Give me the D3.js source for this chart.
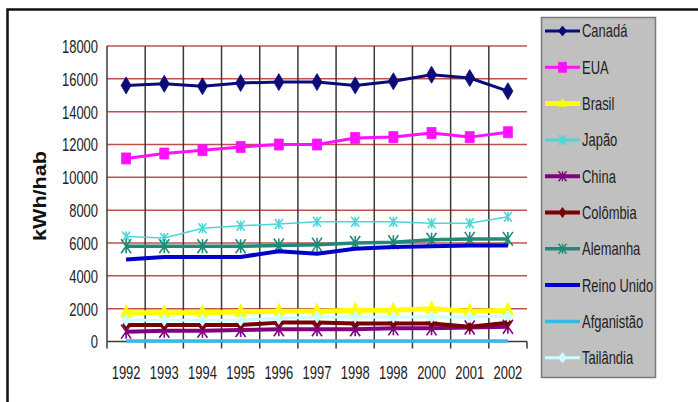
<!DOCTYPE html>
<html>
<head>
<meta charset="utf-8">
<script src="https://cdn.jsdelivr.net/npm/d3@7"></script>
<style>
  html, body { margin: 0; padding: 0; background: #fff; }
  svg { display: block; }
  text { font-family: "Liberation Sans", Arial, sans-serif; fill: #222; }
</style>
</head>
<body>
<svg id="chart" width="698" height="402"></svg>
<script>
// Consumo de eletricidade per capita (kWh/hab), 1992–2002
const years = ["1992","1993","1994","1995","1996","1997","1998","1999","2000","2001","2002"];
const yearLabels = ["1992","1993","1994","1995","1996","1997","1998","1998","2000","2001","2002"];
const yTicks = [0, 2000, 4000, 6000, 8000, 10000, 12000, 14000, 16000, 18000];

const canada     = [15600, 15700, 15550, 15750, 15800, 15800, 15600, 15850, 16250, 16050, 15250];
const eua        = [11150, 11450, 11650, 11850, 12000, 12000, 12400, 12450, 12700, 12450, 12750];
const brasil     = [1750, 1750, 1750, 1800, 1850, 1850, 1900, 1900, 2000, 1850, 1900];
const japao      = [6400, 6300, 6900, 7050, 7150, 7300, 7300, 7300, 7200, 7200, 7600];
const china      = [600, 650, 650, 700, 750, 750, 750, 800, 800, 850, 900];
const colombia   = [1000, 1000, 1000, 1000, 1150, 1150, 1100, 1100, 1100, 900, 1150];
const alemanha   = [5800, 5800, 5800, 5800, 5850, 5900, 6000, 6050, 6200, 6250, 6250];
const reinoUnido = [5000, 5150, 5150, 5150, 5500, 5350, 5650, 5750, 5800, 5850, 5850];
const afganistao = [30, 30, 30, 30, 30, 30, 30, 30, 30, 30, 30];
const tailandia  = [1300, 1300, 1300, 1300, 1400, 1500, 1500, 1500, 1500, 1500, 1550];

const seriesNames = ["Canadá","EUA","Brasil","Japão","China","Colômbia","Alemanha","Reino Unido","Afganistão","Tailândia"];
const seriesValues = [canada, eua, brasil, japao, china, colombia, alemanha, reinoUnido, afganistao, tailandia];

// visual style per series (colour, stroke width, marker)
const styles = [
  { color: "#0c0c78", width: 3,   marker: "diamond",  mw: 10, mh: 17 },
  { color: "#ff10ff", width: 3,   marker: "square",   mw: 9,  mh: 11 },
  { color: "#ffff00", width: 5,   marker: "triangle", mw: 11, mh: 16 },
  { color: "#4dd6d6", width: 1.5, marker: "asterisk", mw: 8,  mh: 10 },
  { color: "#800080", width: 4,   marker: "asterisk", mw: 10, mh: 14 },
  { color: "#7a0000", width: 4,   marker: "diamond",  mw: 7,  mh: 10 },
  { color: "#1f8a78", width: 3.5, marker: "asterisk", mw: 10, mh: 14 },
  { color: "#0000cc", width: 4,   marker: null },
  { color: "#33bbe8", width: 3.5, marker: null },
  { color: "#ccffff", width: 3,   marker: "diamond",  mw: 8,  mh: 12 }
];

const svg = d3.select("#chart");
const SX = 0.72; // horizontal squeeze of the axis/legend type

// outer frame
svg.append("rect")
  .attr("x", 7.5).attr("y", 9.5).attr("width", 720).attr("height", 420)
  .attr("fill", "#fff").attr("stroke", "#111").attr("stroke-width", 2.5);

const plot = { left: 107, right: 527, top: 46, bottom: 341.5 };

const x = d3.scaleBand().domain(years).range([plot.left, plot.right]).padding(0);
const y = d3.scaleLinear().domain([0, 18000]).range([plot.bottom, plot.top]);
const cx = d => x(d) + x.bandwidth() / 2;

// horizontal grid
svg.append("g")
  .selectAll("line").data(yTicks.filter(t => t > 0)).join("line")
  .attr("x1", plot.left).attr("x2", plot.right)
  .attr("y1", d => y(d)).attr("y2", d => y(d))
  .attr("stroke", "#c0504d").attr("stroke-width", 1.5);

// vertical grid at category boundaries (extend below as tick marks)
const bounds = years.map(d => x(d)).concat([plot.right]);
svg.append("g")
  .selectAll("line").data(bounds).join("line")
  .attr("x1", d => d).attr("x2", d => d)
  .attr("y1", (d, i) => i === bounds.length - 1 ? plot.bottom : plot.top)
  .attr("y2", plot.bottom + 7)
  .attr("stroke", "#3a3a3a").attr("stroke-width", 1.5);

// x axis line
svg.append("line")
  .attr("x1", plot.left).attr("x2", plot.right)
  .attr("y1", plot.bottom).attr("y2", plot.bottom)
  .attr("stroke", "#3a3a3a").attr("stroke-width", 1.5);

// y axis labels
const yAxis = svg.append("g")
  .attr("transform", `translate(${plot.left},0)`)
  .call(d3.axisLeft(y).tickValues(yTicks).tickSize(0).tickFormat(d3.format("d")));
yAxis.select(".domain").remove();
yAxis.selectAll("text")
  .attr("x", -9 / SX).attr("dy", "0.36em")
  .attr("transform", `scale(${SX},1)`)
  .style("font-size", "18px").style("fill", "#222");

// x axis labels
const xAxis = svg.append("g")
  .attr("transform", `translate(0,${plot.bottom})`)
  .call(d3.axisBottom(x).tickSize(0).tickFormat((d, i) => yearLabels[i]));
xAxis.select(".domain").remove();
xAxis.selectAll(".tick text")
  .attr("y", 0).attr("dy", 0)
  .attr("transform", `translate(0,37) scale(${SX},1)`)
  .style("font-size", "18px").style("fill", "#222");

// y axis title
svg.append("text")
  .attr("transform", "translate(46,196) rotate(-90)")
  .attr("text-anchor", "middle")
  .attr("textLength", 90).attr("lengthAdjust", "spacingAndGlyphs")
  .style("font-size", "18px").style("font-weight", "bold").style("fill", "#111")
  .text("kWh/hab");

// marker shapes
function markerPath(type, w, h) {
  const a = w / 2, b = h / 2;
  if (type === "diamond") return `M0,${-b}L${a},0L0,${b}L${-a},0Z`;
  if (type === "square") return `M${-a},${-b}H${a}V${b}H${-a}Z`;
  if (type === "triangle") return `M0,${-b}L${a},${b * 0.55}L${-a},${b * 0.55}Z`;
  if (type === "asterisk") return `M0,${-b}V${b}M${-a},${-b}L${a},${b}M${a},${-b}L${-a},${b}`;
  return "";
}

const line = d3.line().x(d => cx(d.year)).y(d => y(d.value));

seriesValues.forEach((vals, si) => {
  const st = styles[si];
  const pts = years.map((yr, i) => ({ year: yr, value: vals[i] }));
  const g = svg.append("g").attr("class", "series");
  g.append("path").datum(pts)
    .attr("d", line).attr("fill", "none")
    .attr("stroke", st.color).attr("stroke-width", st.width)
    .attr("stroke-linejoin", "round");
  if (st.marker) {
    const isStroke = st.marker === "asterisk";
    g.selectAll("path.mk").data(pts).join("path")
      .attr("class", "mk")
      .attr("transform", d => `translate(${cx(d.year)},${y(d.value)})`)
      .attr("d", markerPath(st.marker, st.mw, st.mh))
      .attr("fill", isStroke ? "none" : st.color)
      .attr("stroke", st.color)
      .attr("stroke-width", isStroke ? 1.6 : 0.8);
  }
});

// legend
const legend = svg.append("g");
legend.append("rect")
  .attr("x", 541.5).attr("y", 17.5).attr("width", 114).attr("height", 360)
  .attr("fill", "#c0c0c0").attr("stroke", "#7a7a7a").attr("stroke-width", 1.5);

const legY = i => 31 + i * 36.3;
seriesNames.forEach((name, i) => {
  const st = styles[i];
  const row = legend.append("g").attr("transform", `translate(0,${legY(i)})`);
  row.append("line")
    .attr("x1", 545).attr("x2", 580).attr("y1", 0).attr("y2", 0)
    .attr("stroke", st.color).attr("stroke-width", Math.max(st.width, 3));
  if (st.marker) {
    const isStroke = st.marker === "asterisk";
    row.append("path")
      .attr("transform", "translate(562.5,0)")
      .attr("d", markerPath(st.marker, Math.min(st.mw, 8), Math.min(st.mh, 10)))
      .attr("fill", isStroke ? "none" : st.color)
      .attr("stroke", st.color).attr("stroke-width", isStroke ? 1.4 : 0.8);
  }
  row.append("text")
    .attr("x", 582 / SX).attr("y", 0).attr("dy", "0.36em")
    .attr("transform", `scale(${SX},1)`)
    .style("font-size", "18px").style("fill", "#222")
    .text(name);
});
</script>
</body>
</html>
